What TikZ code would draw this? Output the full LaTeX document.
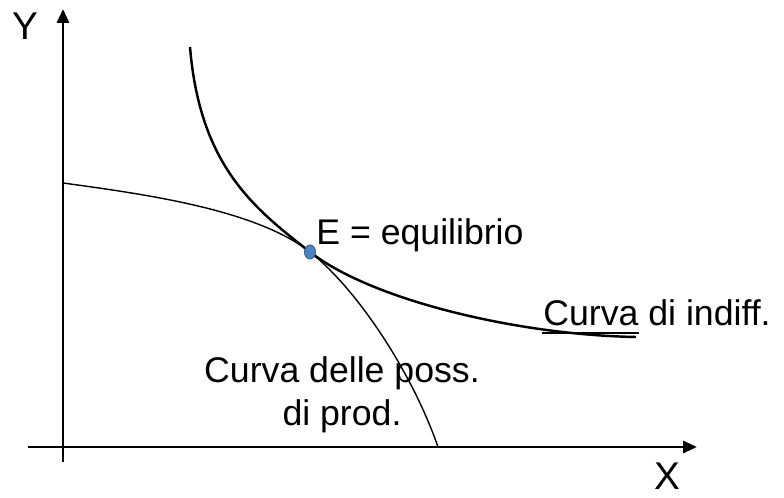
\documentclass[tikz,border=0pt]{standalone}
\usepackage{fontspec}
\setmainfont{Liberation Sans}
\usetikzlibrary{positioning, arrows.meta, shapes.geometric}
\definecolor{puntoblu}{RGB}{79,129,189}
\definecolor{puntobordo}{RGB}{56,93,138}
\newcommand{\sottolinea}[1]{{\setbox0\hbox{#1}\rlap{\kern-1pt\rule[-4.6pt]{\dimexpr\wd0+1.5pt\relax}{1.2pt}}\box0}}
\tikzset{
    asse/.style={-{Triangle[length=0.28cm, width=0.24cm]}, line width=1.7pt, color=black},
    indiff/.style={line width=1.4pt, color=black},
    frontiera/.style={line width=0.8pt, color=black},
    etichetta/.style={font=\fontsize{20.3}{24.5}\selectfont, inner sep=0pt, text=black},
    punto/.style={ellipse, fill=puntoblu, draw=puntobordo, line width=0.5pt, minimum width=0.22cm, minimum height=0.28cm, inner sep=0pt}
}

\begin{document}
\begin{tikzpicture}[x=0.02cm, y=0.02cm]
        % Area
        \useasboundingbox (0,0) rectangle (784,497);

        % Assi
        \coordinate (ybasso) at (63,35);
        \coordinate (yalto) at (63,488);
        \coordinate (xsin) at (28,50);
        \coordinate (xdes) at (697,50);
        \draw[asse] (ybasso) -- (yalto);
        \draw[asse] (xsin) -- (xdes);
        \node[etichetta, font=\fontsize{22}{26}\selectfont] (ylab) at (25,471) {Y};
        \node[etichetta, font=\fontsize{22}{26}\selectfont] (xlab) at (667,21) {X};

        % Punto di equilibrio
        \coordinate (eq) at (310,245);

        % Curva di indifferenza
        \coordinate (ia) at (190,450);
        \coordinate (ib) at (636,160);
        \draw[indiff] (ia) .. controls (200,330) and (255,288) .. (eq)
                           .. controls (373,196) and (520,162) .. (ib);

        % Curva delle possibilita di produzione
        \coordinate (pa) at (63,314);
        \coordinate (pb) at (438,50);
        \draw[frontiera] (pa) .. controls (143,303) and (255,288) .. (eq)
                              .. controls (357,208) and (412,125) .. (pb);

        \node[punto] (E) at (eq) {};

        % Etichette
        \node[etichetta, anchor=base west] (elab) at (316,252) {E = equilibrio};
        \node[etichetta, anchor=base west] (ilab) at (543,171) {\sottolinea{Curva} di indiff.};
        \node[etichetta, align=center] (plab) at (342,102) {Curva delle poss.\\ di prod.};

    \end{tikzpicture}
\end{document}
